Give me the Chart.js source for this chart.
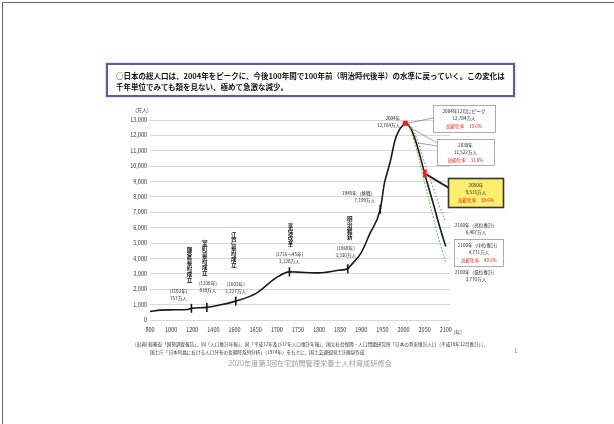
<!DOCTYPE html>
<html lang="ja">
<head>
<meta charset="utf-8">
<title>日本の総人口の長期的推移</title>
<script src="https://cdn.jsdelivr.net/npm/chart.js@4.4.1/dist/chart.umd.min.js"></script>
<style>
  html, body { margin: 0; padding: 0; background: #fff; }
  #page { position: relative; width: 614px; height: 424px; overflow: hidden; font-family: "Noto Sans CJK JP", sans-serif; }
  #frame { position: absolute; left: 2px; top: 2px; width: 640px; height: 440px; border-top: 1px solid #666; border-left: 1px solid #666; }
  #chart { position: absolute; left: 0; top: 0; }
  #lead {
    position: absolute; left: 106px; top: 63px; width: 409px; height: 34px;
    box-sizing: border-box; border: 2px solid #5a5aa6; box-shadow: 0 0 2px #a8a8d8;
    background: #fff; color: #111; font-size: 7.5px; font-weight: bold; line-height: 11px;
    padding: 5px 0 0 8px; white-space: nowrap;
  }
  #caption { position: absolute; left: 0; top: 358px; width: 620px; text-align: center; font-size: 7.2px; color: #9a9a9a; }
</style>
</head>
<body>
<div id="page">
  <div id="frame"></div>
  <canvas id="chart" width="614" height="424"></canvas>
  <div id="lead">○日本の総人口は、2004年をピークに、今後100年間で100年前（明治時代後半）の水準に戻っていく。この変化は<br>千年単位でみても類を見ない、極めて急激な減少。</div>
  <div id="caption">2020年度第3回在宅訪問管理栄養士人材育成研修会</div>
</div>
<script>
// x axis is not linear in years: each tick is one step
const tickYears = [800, 1000, 1200, 1400, 1600, 1650, 1700, 1750, 1800, 1850, 1900, 1950, 2000, 2050, 2100]

// 総人口（万人）
const histYears = [800, 900, 1000, 1150, 1192, 1338, 1450, 1603, 1650, 1700, 1730, 1750, 1800, 1846, 1868, 1873, 1900, 1920, 1945, 1955, 1960, 1970, 1980, 1990, 2000, 2004]
const histPop = [551, 644, 660, 684, 757, 818, 960, 1227, 1718, 2769, 3128, 3110, 3065, 3230, 3330, 3481, 4385, 5596, 7199, 8928, 9430, 10467, 11706, 12361, 12693, 12784]

// 将来推計
const projYears = [2004, 2010, 2020, 2030, 2040, 2050, 2060, 2070, 2080, 2090, 2100]
const projMid = [12784, 12718, 12274, 11522, 10570, 9515, 8550, 7600, 6600, 5650, 4771]
const projHigh = [12784, 12770, 12450, 11900, 11100, 10200, 9400, 8600, 7800, 7050, 6407]
const projLow = [12784, 12700, 12100, 11150, 10050, 8900, 7800, 6700, 5600, 4650, 3770]

// 歴史上の出来事
const eventYears = [1192, 1338, 1603, 1730, 1868, 1945]
const eventPop = [757, 818, 1227, 3128, 3330, 7199]
const eventNames = ['鎌倉幕府成立', '室町幕府成立', '江戸幕府成立', '享保改革', '明治維新', '']
const eventYearText = ['(1192年)', '(1338年)', '(1603年)', '(1716～45年)', '(1868年)', '1945年（終戦）']
const eventPopText = ['757万人', '818万人', '1,227万人', '3,128万人', '3,330万人', '7,199万人']

// label offsets from each event point: [vertical text dx, vertical bottom dy, label dx, label dy, align]
const eventLayout = [
  [-2, -25, -13, -17, 'center'],
  [-2, -32, 1, -24, 'center'],
  [-2, -33, 0, -17, 'center'],
  [1, -25, 0, -18, 'center'],
  [2, -29, -2, -21, 'center'],
  [0, 0, -5, -16, 'right']
]

const FONT = '"Noto Sans CJK JP", sans-serif'
const RED = '#e3241c'

function yearPos (year) {
  for (let i = 1; i < tickYears.length; i++) {
    if (year <= tickYears[i]) {
      const a = tickYears[i - 1]
      const b = tickYears[i]
      return i - 1 + (year - a) / (b - a)
    }
  }
  return tickYears.length - 1
}

function pts (years, vals) {
  return years.map((y, i) => ({ x: yearPos(y), y: vals[i] }))
}

function lines (ctx, arr, x, y, step, align, colors) {
  ctx.textAlign = align
  arr.forEach((t, i) => {
    ctx.fillStyle = (colors && colors[i]) || '#222'
    ctx.fillText(t, x, y + i * step)
  })
}

function box (ctx, x, y, w, h, fill, stroke, lw) {
  ctx.fillStyle = fill
  ctx.fillRect(x, y, w, h)
  ctx.strokeStyle = stroke
  ctx.lineWidth = lw
  ctx.strokeRect(x + 0.5, y + 0.5, w, h)
}

const annotations = {
  id: 'annotations',
  afterDraw (chart) {
    const ctx = chart.ctx
    const xs = chart.scales.x
    const ys = chart.scales.y
    const px = yr => xs.getPixelForValue(yearPos(yr))
    const py = v => ys.getPixelForValue(v)
    ctx.save()
    ctx.textBaseline = 'middle'

    // units
    ctx.font = `5px ${FONT}`
    ctx.fillStyle = '#333'
    ctx.textAlign = 'center'
    ctx.fillText('(万人)', chart.chartArea.left - 8, chart.chartArea.top - 10)
    ctx.fillText('(年)', px(2100) + 12, chart.chartArea.bottom + 12)

    // event marks and labels
    eventYears.forEach((yr, i) => {
      const x = px(yr)
      const y = py(eventPop[i])
      const [vdx, vdy, ldx, ldy, align] = eventLayout[i]
      ctx.strokeStyle = '#111'
      ctx.lineWidth = 1.6
      ctx.beginPath()
      ctx.moveTo(x, y - 4.5)
      ctx.lineTo(x, y + 4.5)
      ctx.stroke()

      const name = eventNames[i]
      if (name) {
        ctx.font = `bold 5.5px ${FONT}`
        ctx.fillStyle = '#111'
        ctx.textAlign = 'center'
        const top = y + vdy - name.length * 6
        for (let k = 0; k < name.length; k++) {
          ctx.fillText(name[k], x + vdx, top + 3 + k * 6)
        }
      }
      ctx.font = `4.6px ${FONT}`
      lines(ctx, [eventYearText[i], eventPopText[i]], x + ldx, y + ldy, 7, align)
    })

    // peak
    const pkX = px(2004)
    const pkY = py(12784)
    ctx.font = `4.6px ${FONT}`
    lines(ctx, ['2004年', '12,784万人'], pkX - 5, pkY - 5, 7, 'right')

    // callout connectors
    ctx.strokeStyle = '#777'
    ctx.lineWidth = 0.7
    ctx.beginPath()
    ctx.moveTo(pkX + 2, pkY)
    ctx.lineTo(433, 118)
    ctx.moveTo(px(2030) + 1, py(11522))
    ctx.lineTo(437, 146)
    ctx.moveTo(px(2004) + 3, pkY + 3)
    ctx.lineTo(437, 143)
    ctx.stroke()

    ctx.strokeStyle = '#222'
    ctx.lineWidth = 2
    ctx.beginPath()
    ctx.moveTo(px(2050) + 2, py(9515) + 1)
    ctx.lineTo(449, 188)
    ctx.stroke()

    // red marks
    ctx.fillStyle = RED
    ctx.fillRect(pkX - 2.5, pkY - 2.5, 5, 5)
    ctx.fillRect(px(2050) - 1.5, py(9515) - 4, 3.5, 8)

    // right side boxes
    ctx.font = `4.6px ${FONT}`
    box(ctx, 433, 105, 62, 27, '#fff', '#888', 0.7)
    lines(ctx, ['2004年12月にピーク', '12,784万人', '高齢化率　19.6%'], 464, 111, 7.5, 'center', [null, null, RED])

    box(ctx, 437, 139, 57, 26, '#fff', '#888', 0.7)
    lines(ctx, ['2030年', '11,522万人', '高齢化率　31.8%'], 465.5, 145, 7.5, 'center', [null, null, RED])

    box(ctx, 448, 178, 55, 29, '#fbee6e', '#333', 1.6)
    lines(ctx, ['2050年', '9,515万人', '高齢化率　39.6%'], 476, 185, 7.5, 'center', [null, null, RED])

    lines(ctx, ['2100年（高位推計）', '6,407万人'], 476, 225, 7, 'center')

    box(ctx, 454, 239, 49, 27, '#fff', '#888', 0.7)
    lines(ctx, ['2100年（中位推計）', '4,771万人', '高齢化率　40.6%'], 479, 245, 7.5, 'center', [null, null, RED])

    lines(ctx, ['2100年（低位推計）', '3,770万人'], 476, 272, 7, 'center')

    // source note
    ctx.font = `4.6px ${FONT}`
    ctx.fillStyle = '#333'
    ctx.textAlign = 'left'
    ctx.fillText('(出典) 総務省「国勢調査報告」、同「人口推計年報」、同「平成12年及び17年人口推計年報」、国立社会保障・人口問題研究所「日本の将来推計人口（平成18年12月推計）」、', 135, 344, 370)
    ctx.fillText('国土庁「日本列島における人口分布の長期時系列分析」（1974年）をもとに、国土交通省国土計画局作成', 150, 352, 345)

    ctx.font = `6px ${FONT}`
    ctx.fillStyle = '#888'
    ctx.fillText('1', 514, 351)
    ctx.restore()
  }
}

new Chart(document.getElementById('chart'), {
  type: 'line',
  data: {
    datasets: [
      {
        data: pts(histYears, histPop),
        borderColor: '#1a1a1a',
        borderWidth: 1.6,
        pointRadius: 0,
        cubicInterpolationMode: 'monotone'
      },
      {
        data: pts(projYears, projLow),
        borderColor: '#5cc05c',
        borderWidth: 1,
        borderDash: [2, 1.5],
        pointRadius: 0,
        cubicInterpolationMode: 'monotone'
      },
      {
        data: pts(projYears, projHigh),
        borderColor: '#e05050',
        borderWidth: 1,
        borderDash: [1.5, 2],
        pointRadius: 0,
        cubicInterpolationMode: 'monotone'
      },
      {
        data: pts(projYears, projMid),
        borderColor: '#1a1a1a',
        borderWidth: 1.6,
        pointRadius: 0,
        cubicInterpolationMode: 'monotone'
      }
    ]
  },
  options: {
    responsive: false,
    animation: false,
    layout: { padding: { left: 100, right: 164, top: 120, bottom: 84 } },
    plugins: { legend: { display: false }, tooltip: { enabled: false } },
    scales: {
      x: {
        type: 'linear',
        min: 0,
        max: 14.2,
        grid: { display: false, drawTicks: false },
        border: { display: false },
        ticks: {
          stepSize: 1,
          includeBounds: false,
          autoSkip: false,
          maxRotation: 0,
          padding: 7,
          color: '#333',
          font: { size: 5.5, family: FONT },
          callback: v => tickYears[v] ?? ''
        },
        afterFit: s => { s.height = 20 }
      },
      y: {
        min: 0,
        max: 13000,
        grid: { color: '#cdcdcd', lineWidth: 0.8, drawTicks: false },
        border: { display: false },
        ticks: {
          stepSize: 1000,
          padding: 3,
          color: '#333',
          font: { size: 5.5, family: FONT },
          callback: v => v.toLocaleString('en-US')
        },
        afterFit: s => { s.width = 50 }
      }
    }
  },
  plugins: [annotations]
})
</script>
</body>
</html>
